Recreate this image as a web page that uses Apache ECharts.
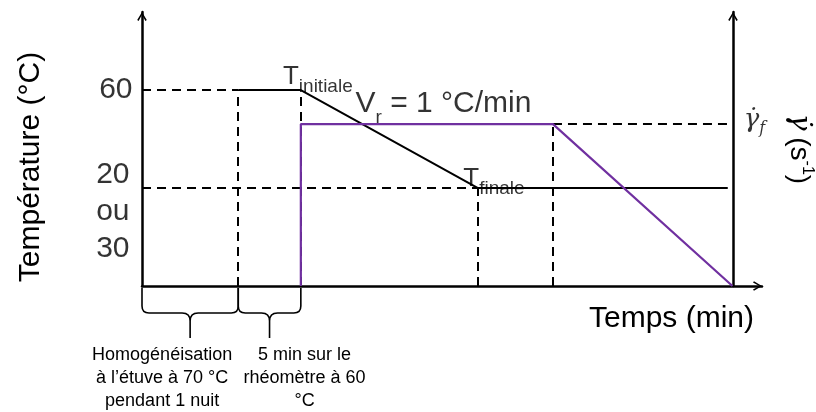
<!DOCTYPE html>
<html>
<head>
<meta charset="utf-8">
<script src="https://cdn.jsdelivr.net/npm/echarts@6/dist/echarts.min.js"></script>
<style>
  html, body { margin: 0; padding: 0; background: #fff; overflow: hidden; }
</style>
</head>
<body>
<div style="width:816px;height:412px;" id="protocol_chart"></div>
<script>
  // temperature profile (left axis, °C) - schematic time units
  const tempX = [16.3, 26.9, 56.9, 99.2]
  const tempY = [60, 60, 30, 30]
  // shear rate profile (right axis, relative to top of axis = 100)
  const shearX = [26.9, 26.9, 69.6, 100]
  const shearY = [0, 59.1, 59.1, 0]
  const tempTickValues = [60, 30]
  const tempTickLabels = ['60', '20\nou\n30']
  const phaseNotes = [
    'Homogénéisation\nà l’étuve à 70 °C\npendant 1 nuit',
    '5 min sur le\nrhéomètre à 60\n°C'
  ]

  const chevron = 'path://M5,0 L10,8.4 L8.6,9.4 L5,2.8 L1.4,9.4 L0,8.4 Z'
  const axisLine = {
    show: true,
    onZero: false,
    symbol: ['none', chevron],
    symbolSize: [12, 9],
    symbolOffset: [0, -4.5],
    lineStyle: { color: '#000', width: 2.5 }
  }

  // dashed guide lines built from the profile break points
  const tempGuides = [
    [[0, tempY[0]], [tempX[0], tempY[0]]],
    [[0, tempY[2]], [tempX[2], tempY[2]]],
    [[tempX[0], 0], [tempX[0], tempY[0]]],
    [[tempX[1], 0], [tempX[1], tempY[1]]],
    [[tempX[2], 0], [tempX[2], tempY[2]]]
  ]
  const shearGuides = [
    [[shearX[2], 0], [shearX[2], shearY[2]]],
    [[shearX[2], shearY[2]], [shearX[3], shearY[2]]]
  ]
  const phases = [[0, tempX[0]], [tempX[0], tempX[1]]]
  const noteShift = [-28, 35]

  const chart = echarts.init(document.getElementById('protocol_chart'))
  const dashStyle = { color: '#000', width: 2, type: [9, 6], opacity: 1 }
  const subRich = {
    T: { fontSize: 26, lineHeight: 32, verticalAlign: 'top', color: '#000' },
    s: { fontSize: 19, lineHeight: 19, verticalAlign: 'bottom', color: '#000' },
    V: { fontSize: 30, lineHeight: 38, verticalAlign: 'top', color: '#000' },
    r: { fontSize: 19, lineHeight: 19, verticalAlign: 'bottom', color: '#000' }
  }

  chart.setOption({
    animation: false,
    backgroundColor: '#fff',
    textStyle: { fontFamily: 'Liberation Sans', color: '#000' },
    grid: { left: 142, right: 54, top: 12, bottom: 126, containLabel: false, outerBoundsMode: 'none' },
    xAxis: {
      type: 'value', min: 0, max: 105,
      axisLine: axisLine,
      axisTick: { show: false }, axisLabel: { show: false }, splitLine: { show: false },
      name: 'Temps (min)',
      nameLocation: 'end',
      nameGap: -8,
      nameTextStyle: { fontSize: 30, color: '#000', align: 'right', verticalAlign: 'top', padding: [18, 0, 0, 0] }
    },
    yAxis: [
      {
        type: 'value', min: 0, max: 83.88,
        axisLine: axisLine,
        axisTick: { show: false }, axisLabel: { show: false }, splitLine: { show: false },
        name: 'Température (°C)',
        nameLocation: 'middle',
        nameRotate: 90,
        nameGap: 96,
        nameTextStyle: { fontSize: 30, color: '#000', padding: [0, 36, 0, 0] }
      },
      {
        type: 'value', min: 0, max: 100, position: 'right', offset: -29,
        axisLine: axisLine,
        axisTick: { show: false }, axisLabel: { show: false }, splitLine: { show: false },
        name: '{g|γ̇}  {t|(s}{sup|-1}{t|)}',
        nameLocation: 'middle',
        nameRotate: -90,
        nameGap: 50,
        nameTextStyle: {
          color: '#000',
          rich: {
            g: { fontFamily: 'DejaVu Serif', fontStyle: 'italic', fontSize: 28, lineHeight: 32, color: '#000' },
            t: { fontSize: 28, lineHeight: 32, color: '#000' },
            sup: { fontSize: 16, lineHeight: 16, verticalAlign: 'top', color: '#000' }
          }
        }
      }
    ],
    series: [
      {
        type: 'lines', coordinateSystem: 'cartesian2d', silent: true, z: 1,
        data: tempGuides.map(function (c) { return { coords: c } }),
        lineStyle: dashStyle
      },
      {
        type: 'lines', coordinateSystem: 'cartesian2d', yAxisIndex: 1, silent: true, z: 1,
        data: shearGuides.map(function (c) { return { coords: c } }),
        lineStyle: dashStyle
      },
      {
        name: 'Température', type: 'line', symbol: 'none', z: 2,
        data: tempX.map(function (x, i) { return [x, tempY[i]] }),
        lineStyle: { color: '#000', width: 2 }
      },
      {
        name: 'Cisaillement', type: 'line', symbol: 'none', yAxisIndex: 1, z: 3,
        data: shearX.map(function (x, i) { return [x, shearY[i]] }),
        lineStyle: { color: '#7030A0', width: 2.2 }
      },
      {
        // braces and phase notes under the time axis
        type: 'custom', clip: false, silent: true,
        data: phases,
        renderItem: function (params, api) {
          const a = api.coord([api.value(0), 0])
          const b = api.coord([api.value(1), 0])
          const y0 = a[1], xa = a[0], xb = b[0], m = (xa + xb) / 2
          const path = 'M' + xa + ',' + (y0 + 2) + ' L' + xa + ',' + (y0 + 20) +
            ' Q' + xa + ',' + (y0 + 27) + ' ' + (xa + 7) + ',' + (y0 + 27) +
            ' L' + (m - 8) + ',' + (y0 + 27) +
            ' Q' + m + ',' + (y0 + 27) + ' ' + m + ',' + (y0 + 35) +
            ' L' + m + ',' + (y0 + 52) +
            ' M' + m + ',' + (y0 + 35) +
            ' Q' + m + ',' + (y0 + 27) + ' ' + (m + 8) + ',' + (y0 + 27) +
            ' L' + (xb - 7) + ',' + (y0 + 27) +
            ' Q' + xb + ',' + (y0 + 27) + ' ' + xb + ',' + (y0 + 20) +
            ' L' + xb + ',' + (y0 + 2)
          return {
            type: 'group',
            children: [
              { type: 'path', shape: { pathData: path }, style: { stroke: '#000', fill: 'none', lineWidth: 1.6 } },
              {
                type: 'text', x: m + noteShift[params.dataIndex], y: y0 + 58,
                style: {
                  text: phaseNotes[params.dataIndex], fill: '#000',
                  fontSize: 18, fontFamily: 'Liberation Sans',
                  align: 'center', verticalAlign: 'top', lineHeight: 23
                }
              }
            ]
          }
        }
      },
      {
        // temperature annotations
        type: 'scatter', symbolSize: 1, silent: true, z: 5,
        itemStyle: { color: 'rgba(0,0,0,0)' },
        label: { show: true, color: '#000', rich: subRich },
        data: [
          {
            value: [0, tempTickValues[0]],
            label: { formatter: tempTickLabels[0], position: 'left', distance: 9, fontSize: 30, color: '#000' }
          },
          {
            value: [0, tempTickValues[1]],
            label: { formatter: tempTickLabels[1], position: 'left', distance: 12, fontSize: 30, lineHeight: 37, align: 'right', offset: [0, 24], color: '#000' }
          },
          {
            value: [tempX[1], tempY[1]],
            label: { formatter: '{T|T}{s|initiale}', position: 'inside', offset: [17, -10] }
          },
          {
            value: [(tempX[1] + tempX[2]) / 2, (tempY[1] + tempY[2]) / 2],
            label: { formatter: '{V|V}{r|r}{V| = 1 °C/min}', position: 'inside', offset: [54, -31] }
          },
          {
            value: [tempX[2], tempY[2]],
            label: { formatter: '{T|T}{s|finale}', position: 'inside', offset: [16, -6] }
          }
        ]
      },
      {
        // shear rate annotation on the right axis
        type: 'scatter', symbolSize: 1, silent: true, yAxisIndex: 1, z: 5,
        itemStyle: { color: 'rgba(0,0,0,0)' },
        label: {
          show: true, position: 'inside', offset: [22, -2],
          formatter: '{g|γ̇}{f|f}',
          rich: {
            g: { fontFamily: 'DejaVu Serif', fontStyle: 'italic', fontSize: 26, lineHeight: 30, verticalAlign: 'top', color: '#000' },
            f: { fontFamily: 'DejaVu Serif', fontStyle: 'italic', fontSize: 16, lineHeight: 16, verticalAlign: 'bottom', color: '#000' }
          }
        },
        data: [[shearX[3], shearY[2]]]
      }
    ]
  })
</script>
</body>
</html>
